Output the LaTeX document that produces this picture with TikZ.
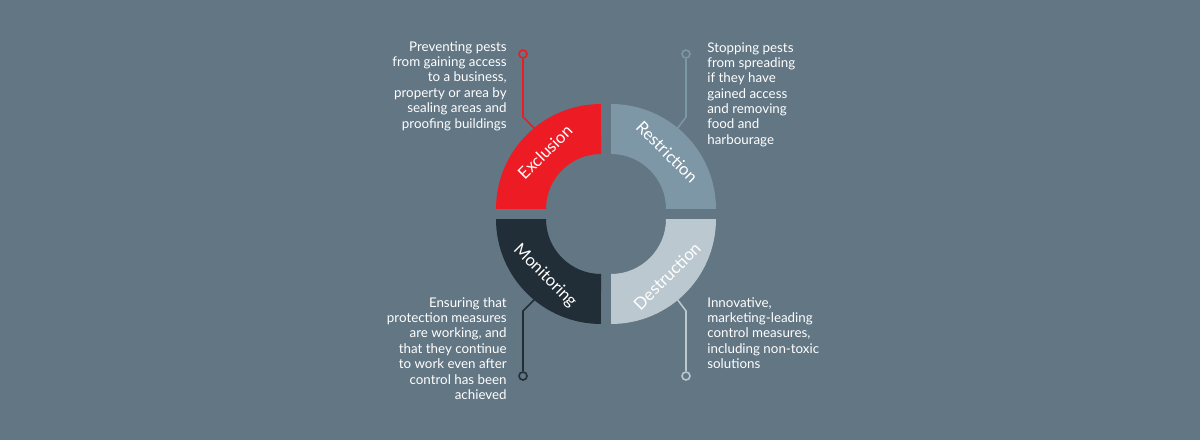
\documentclass[tikz,border=0pt]{standalone}
\usepackage{fontspec}
\setmainfont{Lato}
\usetikzlibrary{positioning}
\definecolor{bgc}{HTML}{627684}
\definecolor{exred}{HTML}{ED1C24}
\definecolor{resgray}{HTML}{7E97A6}
\definecolor{desgray}{HTML}{BBC8CF}
\definecolor{mondark}{HTML}{222E37}
\begin{document}
\begin{tikzpicture}[x=0.02cm,y=0.02cm,
    blabel/.style={text=white,font=\fontsize{9.5}{11}\selectfont},
    desc/.style={text=white,font=\fontsize{7.6}{8.75}\selectfont,inner sep=0pt},
    pin/.style={circle,draw,line width=0.9pt,minimum size=0.16cm,inner sep=0pt}]
    \fill [bgc] (0,0) rectangle (1200,440);
    % quadrants
    \fill [exred] (496,231) arc (180:90:2.1cm) -- (601,286) arc (90:180:1.1cm) -- cycle;
    \fill [resgray] (611,336) arc (90:0:2.1cm) -- (666,231) arc (0:90:1.1cm) -- cycle;
    \fill [mondark] (496,221) arc (180:270:2.1cm) -- (601,166) arc (270:180:1.1cm) -- cycle;
    \fill [desgray] (611,116) arc (270:360:2.1cm) -- (666,221) arc (360:270:1.1cm) -- cycle;
    \node [blabel,rotate=45] (excl) at (545,288) {Exclusion};
    \node [blabel,rotate=-45] (restr) at (667,288) {Restriction};
    \node [blabel,rotate=-45] (monit) at (545,164) {Monitoring};
    \node [blabel,rotate=45] (destr) at (667,164) {Destruction};
    % pins
    \node [pin,draw=exred] (p1) at (523,386) {};
    \node [pin,draw=resgray] (p2) at (686,386) {};
    \node [pin,draw=mondark] (p3) at (523,64) {};
    \node [pin,draw=desgray] (p4) at (686,64) {};
    \coordinate (e1) at (535,311);
    \coordinate (e2) at (677,311);
    \coordinate (e3) at (535,141);
    \coordinate (e4) at (677,141);
    \draw [exred,line width=0.9pt] (e1) -- (523,323) -- (p1);
    \draw [resgray,line width=0.9pt] (e2) -- (686,323) -- (p2);
    \draw [mondark,line width=0.9pt] (e3) -- (523,129) -- (p3);
    \draw [desgray,line width=0.9pt] (e4) -- (686,129) -- (p4);
    % texts
    \node [desc,anchor=north east,align=right] (t1) at (507,399) {Preventing pests\\from gaining access\\to a business,\\property or area by\\sealing areas and\\proofing buildings};
    \node [desc,anchor=north west,align=left] (t2) at (707,398) {Stopping pests\\from spreading\\if they have\\gained access\\and removing\\food and\\harbourage};
    \node [desc,anchor=north east,align=right] (t3) at (507,143) {Ensuring that\\protection measures\\are working, and\\that they continue\\to work even after\\control has been\\achieved};
    \node [desc,anchor=north west,align=left] (t4) at (707,143) {Innovative,\\marketing-leading\\control measures,\\including non-toxic\\solutions};
\end{tikzpicture}
\end{document}
